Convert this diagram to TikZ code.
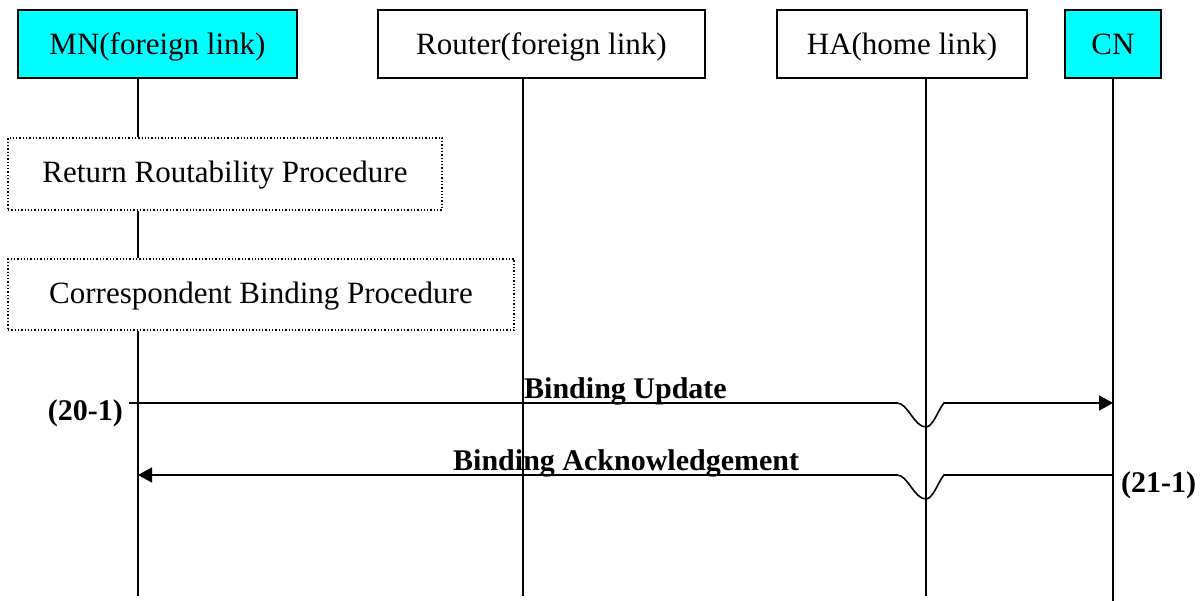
\documentclass[tikz,border=0pt]{standalone}
\usepackage{fontspec}
\setmainfont{Liberation Serif}
\usetikzlibrary{arrows.meta}
\definecolor{boxcyan}{RGB}{0,255,255}
\begin{document}
\begin{tikzpicture}[x=1pt,y=-1pt,
  entity/.style={draw=black,line width=2pt,inner sep=0pt,text height=27pt,text depth=6pt,font=\fontsize{31}{36}\selectfont},
  proc/.style={draw=black,line width=1.3pt,dotted,inner sep=0pt,text height=24pt,text depth=6pt,font=\fontsize{31}{36}\selectfont},
  life/.style={line width=1.3pt},
  msg/.style={line width=1.6pt},
  tip/.style={-{Triangle[length=14pt,width=15pt]}},
  msglabel/.style={inner sep=0pt,font=\fontsize{30}{34}\selectfont\bfseries},
  stepnum/.style={inner sep=0pt,font=\fontsize{30}{34}\selectfont\bfseries}]
\useasboundingbox (0,0) rectangle (1203,601);

% entity boxes
\node[entity,fill=boxcyan,minimum width=279pt,minimum height=68pt] (mn) at (157.5,44) {MN(foreign link)};
\node[entity,minimum width=327pt,minimum height=68pt] (rt) at (541.5,44) {Router(foreign link)};
\node[entity,minimum width=250pt,minimum height=68pt] (ha) at (902,44) {HA(home link)};
\node[entity,fill=boxcyan,minimum width=96pt,minimum height=68pt] (cn) at (1113,44) {CN};

% procedure boxes
\node[proc,minimum width=434pt,minimum height=72pt] (rr) at (225,174) {Return Routability Procedure};
\node[proc,minimum width=506pt,minimum height=71pt] (cb) at (261,294.5) {Correspondent Binding Procedure};

% lifeline ends
\coordinate (mnb) at (138,596);
\coordinate (rtb) at (523,596);
\coordinate (hab) at (926,596);
\coordinate (cnb) at (1113,601);

% lifelines
\draw[life] (mn.south -| mnb) -- (rr.north -| mnb);
\draw[life] (rr.south -| mnb) -- (cb.north -| mnb);
\draw[life] (cb.south -| mnb) -- (mnb);
\draw[life] (rt.south -| rtb) -- (rtb);
\draw[life] (ha.south -| hab) -- (hab);
\draw[life] (cn.south) -- (cnb);

% message 1: Binding Update
\coordinate (bus) at (129,403);
\coordinate (bue) at (cnb |- bus);
\draw[msg,tip] (bus) -- (897,403)
  .. controls (908,403) and (914,427) .. (926,427)
  .. controls (933,427) and (938,410) .. (944,403) -- (bue);
\node[msglabel,anchor=base west] (bul) at (524,399) {Binding Update};

% message 2: Binding Acknowledgement
\coordinate (bas) at (cnb |- 0,475);
\coordinate (bae) at (mnb |- 0,475);
\draw[msg,tip] (bas) -- (944,475)
  .. controls (938,482) and (933,499) .. (926,499)
  .. controls (914,499) and (908,475) .. (897,475) -- (bae);
\node[msglabel,anchor=base west] (bal) at (453,471) {Binding Acknowledgement};

% step numbers
\node[stepnum,anchor=base east] (s20) at (123,421) {(20-1)};
\node[stepnum,anchor=base west] (s21) at (1121,493) {(21-1)};
\end{tikzpicture}
\end{document}
